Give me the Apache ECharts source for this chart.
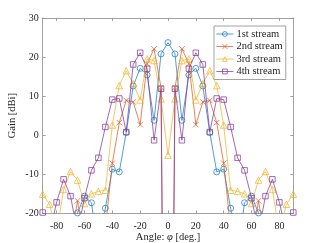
<!DOCTYPE html>
<html><head><meta charset="utf-8">
<script src="https://cdn.jsdelivr.net/npm/echarts@6/dist/echarts.min.js"></script>
<style>html,body{margin:0;padding:0;background:#fff}#c{width:324px;height:243px}</style>
</head><body><div id="c"></div>
<script>
const angles = [-90,-85,-80,-75,-70,-65,-60,-55,-50,-45,-40,-35,-30,-25,-20,-15,-10,-5,0,5,10,15,20,25,30,35,40,45,50,55,60,65,70,75,80,85,90];
const stream1 = [-40,-40,-35,-30,-25,-19.9,-15.6,-17.3,-30,-18.7,-8.7,-9.4,0.7,12.6,17.1,15.4,3.8,20.8,23.7,20.8,3.8,15.4,17.1,12.6,0.7,-9.4,-8.7,-18.7,-30,-17.3,-15.6,-19.9,-25,-30,-35,-40,-40];
const stream2 = [-35,-30,-30,-30,-28,-16.8,-28,-30,-30,-24,-7.2,3.2,8.9,8.5,2.7,18.3,22.1,12.2,-200,12.2,22.1,18.3,2.7,8.5,8.9,3.2,-7.2,-24,-30,-30,-28,-16.8,-28,-30,-30,-30,-35];
const stream3 = [-15.1,-17.7,-25,-13.9,-9.3,-11.5,-17.5,-15,-14.4,-14.1,2.6,12.7,16.5,13.2,9,19.5,19.1,9.3,-5.1,9.3,19.1,19.5,9,13.2,16.5,12.7,2.6,-14.1,-14.4,-15,-17.5,-11.5,-9.3,-13.9,-25,-17.7,-15.1];
const stream4 = [-19.8,-25,-17.2,-11.3,-15.6,-25,-16.1,-9,-5.8,2.1,9.1,9.4,0.8,18.1,21.1,17,-1.3,11.9,-200,11.9,-1.3,17,21.1,18.1,0.8,9.4,9.1,2.1,-5.8,-9,-16.1,-25,-15.6,-11.3,-17.2,-25,-19.8];
const xTicks = [-80,-60,-40,-20,0,20,40,60,80];
const seriesNames = ['1st stream','2nd stream','3rd stream','4th stream'];

const colors = ['#1a7cc4','#d95c28','#ecb52e','#86389a'];
const FONT = 'Liberation Serif';
const TXT = '#262626';
const AX = '#8a8a8a';
const CLEAR = 'rgba(255,255,255,0)';
const xPath = 'path://M0,0L10,10M10,0L0,10';
const symbols = ['circle', xPath, 'triangle', 'rect'];
const sizes = [6, 5.5, 6.5, 5.5];
const all = [stream1, stream2, stream3, stream4];
const lineSeries = all.map((vals, i) => ({
  name: seriesNames[i], type: 'line',
  data: angles.map((a, j) => [a, vals[j]]),
  symbol: symbols[i], showSymbol: false,
  lineStyle: { color: colors[i], width: 0.75 },
  itemStyle: { color: colors[i] },
  emphasis: { disabled: true }, clip: true, z: 2 + i
}));
const markSeries = all.map((vals, i) => ({
  name: seriesNames[i], type: 'scatter',
  data: angles.map((a, j) => [a, vals[j]]),
  symbol: symbols[i], symbolSize: sizes[i],
  itemStyle: { color: CLEAR, borderColor: colors[i], borderWidth: 0.75, opacity: 1 },
  emphasis: { disabled: true }, clip: true, z: 2 + i
}));
const axLine = { show: true, onZero: false, lineStyle: { color: AX, width: 0.8 } };
const tick = { show: true, inside: true, length: 3, lineStyle: { color: AX, width: 0.8 } };
const chart = echarts.init(document.getElementById('c'), null, { renderer: 'canvas' });
chart.setOption({
  animation: false,
  backgroundColor: '#fff',
  grid: { left: 42.7, right: 30.7, top: 18, bottom: 29.7, containLabel: false, outerBoundsMode: 'none' },
  legend: {
    orient: 'vertical', left: 214, top: 26, itemWidth: 17, itemHeight: 6, itemGap: 0.5,
    padding: [2, 3, 2, 2], borderColor: AX, borderWidth: 0.8, backgroundColor: '#fff',
    textStyle: { fontFamily: FONT, fontSize: 10.5, lineHeight: 12, color: TXT, padding: [0, 0, 0, -2] },
    data: seriesNames.map((n, i) => ({
      name: n,
      itemStyle: { color: CLEAR, borderColor: colors[i], borderWidth: 0.75 },
      lineStyle: { color: colors[i], width: 0.75 }
    }))
  },
  xAxis: [{
    type: 'value', min: -90, max: 90, position: 'bottom',
    axisLine: axLine, axisTick: Object.assign({ customValues: xTicks }, tick),
    axisLabel: { customValues: xTicks, fontFamily: FONT, fontSize: 10, color: TXT, margin: 8 },
    splitLine: { show: false },
    name: 'Angle: {i|φ} [deg.]', nameLocation: 'middle', nameGap: 18, nameMoveOverlap: false,
    nameTextStyle: { fontFamily: FONT, fontSize: 10.5, color: TXT,
      rich: { i: { fontStyle: 'italic', fontFamily: FONT, fontSize: 10.5, color: TXT } } }
  }, {
    type: 'value', min: -90, max: 90, position: 'top',
    axisLine: axLine, axisTick: Object.assign({ customValues: xTicks }, tick),
    axisLabel: { show: false }, splitLine: { show: false }
  }],
  yAxis: [{
    type: 'value', min: -20, max: 30, interval: 10, position: 'left',
    axisLine: axLine, axisTick: tick,
    axisLabel: { fontFamily: FONT, fontSize: 10, color: TXT, margin: 4 },
    splitLine: { show: false },
    name: 'Gain [dBi]', nameLocation: 'middle', nameGap: 25, nameMoveOverlap: false,
    nameTextStyle: { fontFamily: FONT, fontSize: 10.5, color: TXT }
  }, {
    type: 'value', min: -20, max: 30, interval: 10, position: 'right',
    axisLine: axLine, axisTick: tick, axisLabel: { show: false }, splitLine: { show: false }
  }],
  series: lineSeries.concat(markSeries)
});
</script></body></html>
